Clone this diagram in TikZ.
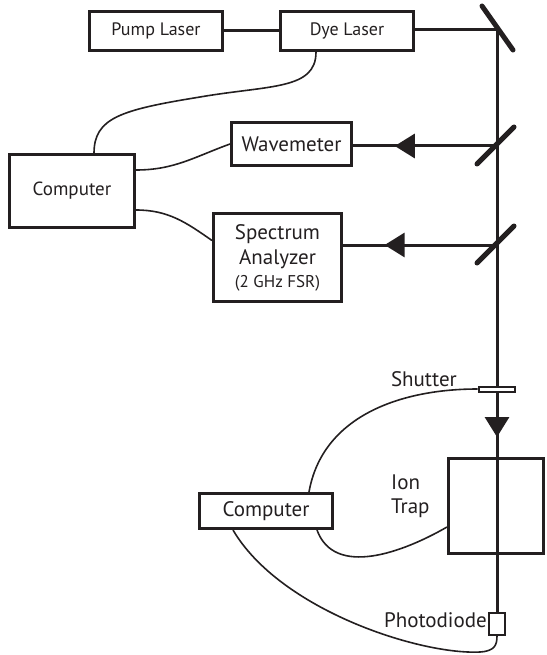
\documentclass[tikz,border=0pt]{standalone}
\usepackage{fontspec}
\setmainfont{PT Sans}
\usetikzlibrary{arrows.meta,decorations.markings}
\definecolor{ink}{RGB}{35,31,32}
\tikzstyle{device}=[draw=ink,line width=3pt,inner sep=0pt,text=ink]
\tikzstyle{small}=[font=\fontsize{18}{22}\selectfont]
\tikzstyle{large}=[font=\fontsize{21}{25}\selectfont]
\tikzstyle{beam}=[draw=ink,line width=3pt]
\tikzstyle{cable}=[draw=ink,line width=1.6pt]
\tikzstyle{mirror}=[draw=ink,line width=5pt,line cap=round]
\tikzstyle{part}=[draw=ink,line width=2pt,fill=white,inner sep=0pt]
\tikzstyle{caption}=[text=ink,inner sep=0pt,font=\fontsize{21}{24}\selectfont]
\tikzstyle{arrowat}=[postaction={decorate},decoration={markings,
    mark=at position #1 with {\arrow{Triangle[length=20pt,width=24pt]}}}]

\begin{document}
\begin{tikzpicture}[x=1pt,y=-1pt]
    \useasboundingbox (0,0) rectangle (546,655);

    % lasers and instruments
    \node[device,small,minimum width=133pt,minimum height=39pt] (pump) at (156,31) {Pump Laser};
    \node[device,small,minimum width=133pt,minimum height=39pt] (dye) at (347,31) {Dye Laser};
    \node[device,small,font=\fontsize{19}{22}\selectfont,minimum width=125pt,minimum height=72pt] (comp) at (72,191) {Computer};
    \node[device,large,minimum width=120pt,minimum height=43pt] (wave) at (291.5,144) {Wavemeter};
    \node[device,large,minimum width=128pt,minimum height=88pt,align=center] (spec) at (277.5,257.5)
        {Spectrum\\Analyzer\\[-2pt]{\fontsize{17}{20}\selectfont(2 GHz FSR)}};
    \node[device,large,minimum width=133pt,minimum height=35pt] (comp2) at (266,511) {Computer};
    \node[device,minimum width=95pt,minimum height=95pt] (trap) at (496,506) {};

    % beam path
    \coordinate (m1) at (497,30);
    \coordinate (m2) at (497,146);
    \coordinate (m3) at (497,245);
    \node[part,minimum width=16pt,minimum height=22pt] (diode) at (497,623.5) {};
    \path[beam] (pump) -- (dye);
    \path[beam] (dye.east |- m1) -- (m1);
    \path[beam,arrowat=0.70] (m1) -- (diode.north);
    \path[beam,arrowat=0.71] (m2) -- (wave.east |- m2);
    \path[beam,arrowat=0.73] (m3) -- (spec.east |- m3);
    \node[part,minimum width=36pt,minimum height=5pt] (shutter) at (496.5,389) {};

    \draw[mirror] (m1) +(-15,-24) -- +(16,20);
    \foreach \m in {m2,m3}
        \draw[mirror] (\m) +(-20,18) -- +(17,-19);

    % labels
    \node[caption,anchor=base east] (shutterlabel) at (457,386) {Shutter};
    \node[caption,anchor=north west,align=left] (traplabel) at (391,475) {Ion\\Trap};
    \node[caption,anchor=base east] (diodelabel) at (487,627) {Photodiode};

    % cables
    \path[cable] ([xshift=-31pt]dye.south) .. controls (316,90) and (270,85) .. (200,97)
        .. controls (120,110) and (94,118) .. ([xshift=22pt]comp.north);
    \path[cable] ([yshift=21pt]comp.east) to[out=0,in=200] (wave.west);
    \path[cable] ([yshift=-19pt]comp.east) to[out=0,in=145] ([yshift=17pt]spec.west);
    \path[cable] ([xshift=43pt]comp2.north) to[out=80,in=180] (shutter.west);
    \path[cable] ([xshift=51pt]comp2.south) to[out=-70,in=210] ([yshift=-21pt]trap.west);
    \path[cable] ([xshift=-33pt]comp2.south) .. controls (280,610) and (420,655) .. (480,652)
        .. controls (495,651) and (497,645) .. (diode.south);
\end{tikzpicture}
\end{document}
